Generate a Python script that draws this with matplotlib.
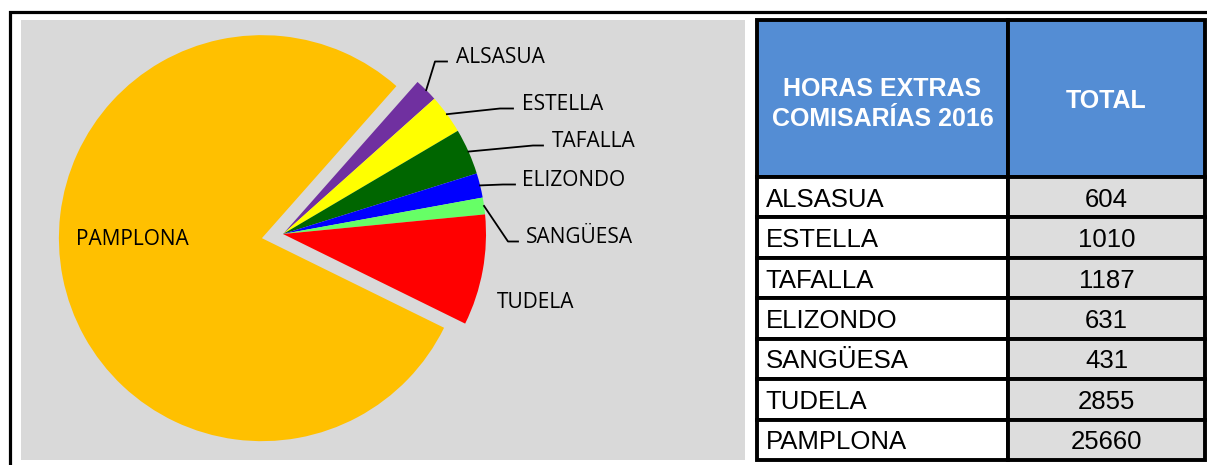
import matplotlib.pyplot as plt
import numpy as np

W, H = 1207, 465

# data
comisarias = ["ALSASUA", "ESTELLA", "TAFALLA", "ELIZONDO", "SANGÜESA", "TUDELA", "PAMPLONA"]
horas = [604, 1010, 1187, 631, 431, 2855, 25660]
colores = ["#7030A0", "#FFFF00", "#006600", "#0000FF", "#66FF66", "#FF0000", "#FFC000"]
cabecera = ["HORAS EXTRAS\nCOMISARÍAS 2016", "TOTAL"]

# label placement in image pixels: text start x, baseline y, leader line (bend x, end x) or None
label_pos = [
    (456, 62.5, (435, 447)),
    (522, 109.5, (500, 513)),
    (552, 146.5, (533, 543)),
    (522, 185.5, (503, 515)),
    (526, 242.5, (508, 518)),
    (497, 307.5, None),
    (76, 244.5, None),
]

fig = plt.figure(figsize=(W / 100, H / 100), dpi=100)


def px_axes(x0, y0, x1, y1):
    return fig.add_axes([x0 / W, 1 - y1 / H, (x1 - x0) / W, (y1 - y0) / H])


# outer frame
frame = px_axes(0, 0, W, H)
frame.set_xlim(0, W)
frame.set_ylim(H, 0)
frame.axis("off")
frame.plot([9.5, 9.5, W], [H, 12, 12], color="black", lw=2.3, solid_joinstyle="miter")

# pie panel (data units = pixels, y up)
ax = px_axes(21, 20, 745, 460)
cx, cy = 283, H - 234
wedges, _ = ax.pie(horas, colors=colores, startangle=48.5, counterclock=False,
                   explode=[0] * 6 + [21.5], radius=203, center=(cx, cy), frame=True,
                   wedgeprops=dict(linewidth=0))
ax.set_xlim(21, 745)
ax.set_ylim(H - 460, H - 20)
ax.set_facecolor("#D9D9D9")
ax.set_xticks([])
ax.set_yticks([])
for s in ax.spines.values():
    s.set_visible(False)

for w, name, (tx, ty, lead) in zip(wedges, comisarias, label_pos):
    ax.text(tx, H - ty, name, fontsize=15, family="Open Sans", ha="left", va="baseline")
    if lead is not None:
        th = np.deg2rad((w.theta1 + w.theta2) / 2)
        ex = w.center[0] + w.r * np.cos(th)
        ey = w.center[1] + w.r * np.sin(th)
        ly = H - ty + 1
        ax.plot([ex, lead[0], lead[1]], [ey, ly, ly], color="black", lw=1.3)

# table
tax = px_axes(757, 20, 1205, 460)
tax.axis("off")
cell_text = [[c, str(v)] for c, v in zip(comisarias, horas)]
tbl = tax.table(cellText=cell_text, colLabels=cabecera, colWidths=[251, 197],
                cellLoc="center", bbox=[0, 0, 1, 1])
tbl.auto_set_font_size(False)
for (r, c), cell in tbl.get_celld().items():
    cell.set_linewidth(2.8)
    cell.set_edgecolor("black")
    txt = cell.get_text()
    txt.set_family("Liberation Sans")
    if r == 0:
        cell.set_height(157)
        cell.set_facecolor("#548DD4")
        txt.set_color("white")
        txt.set_fontweight("bold")
        txt.set_fontsize(18)
        txt.set_linespacing(1.3)
        txt.set_va("center_baseline")
    else:
        cell.set_height(40.4)
        txt.set_fontsize(18.5)
        txt.set_va("center_baseline")
        if c == 0:
            cell.set_facecolor("white")
            cell.PAD = 0.035
            txt.set_ha("left")
        else:
            cell.set_facecolor("#DDDDDD")

fig.savefig("out.png", dpi=100)
